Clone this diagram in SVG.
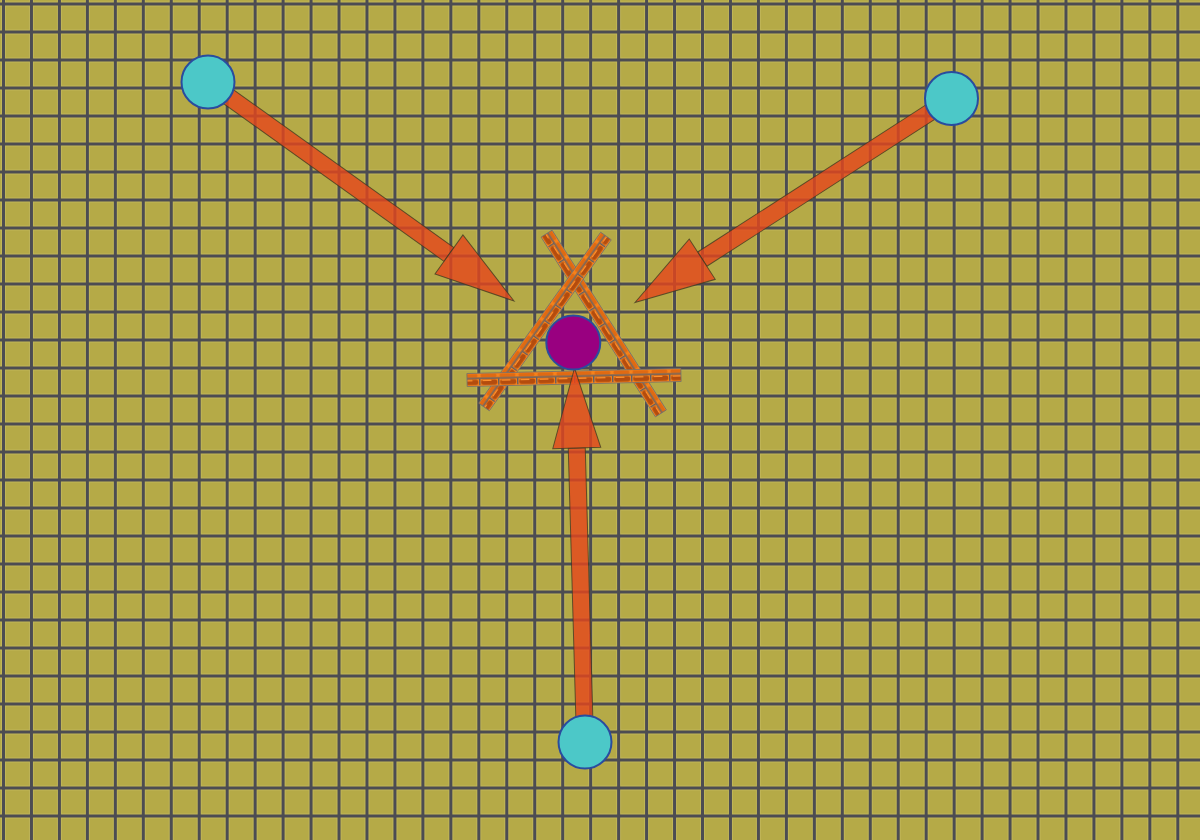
<svg xmlns="http://www.w3.org/2000/svg" width="1200" height="840" viewBox="0 0 1200 840">
  <defs>
    <pattern id="grid" patternUnits="userSpaceOnUse" x="2" y="2.5" width="27.96" height="28">
      <rect x="0" y="0" width="27.96" height="28" fill="#b5aa47"/>
      <rect x="3.5" y="3.5" width="23.96" height="24" fill="none" stroke="#c1b657" stroke-width="1"/>
      <rect x="0" y="0" width="3" height="28" fill="#4c4c52"/>
      <rect x="0" y="0" width="27.96" height="3" fill="#4c4c52"/>
    </pattern>
    <pattern id="brick" patternUnits="userSpaceOnUse" x="0" y="-6.5" width="38" height="13">
      <rect x="0" y="0" width="38" height="13" fill="#f7821a"/>
      <rect x="1.5" y="0.8" width="16" height="3.2" rx="1.5" fill="#e06a12"/>
      <rect x="20.5" y="0.8" width="16" height="3.2" rx="1.5" fill="#e06a12"/>
      <rect x="0" y="4.4" width="38" height="1.4" fill="#5e5e66"/>
      <rect x="0" y="5.8" width="1.4" height="7.2" fill="#5e5e66"/>
      <rect x="19" y="5.8" width="1.4" height="7.2" fill="#5e5e66"/>
      <rect x="2.2" y="6.5" width="16" height="5.2" rx="2.2" fill="#b44c0e"/>
      <rect x="21.2" y="6.5" width="16" height="5.2" rx="2.2" fill="#b44c0e"/>
      <rect x="3.5" y="6.8" width="9" height="1.3" rx="0.6" fill="#ff9230"/>
      <rect x="22.5" y="6.8" width="9" height="1.3" rx="0.6" fill="#ff9230"/>
      <rect x="0" y="12" width="38" height="1" fill="#ff8a20"/>
    </pattern>
    <style>
      .bar { fill: url(#brick); stroke: #707070; stroke-width: 0.8; }
      .arr { fill: #e6461c; fill-opacity: 0.8; stroke: #3a3a22; stroke-opacity: 0.75; stroke-width: 1; stroke-linejoin: miter; }
      .leaf { fill: #4cc8c8; stroke: #2a4c9e; stroke-width: 2; }
      .hub { fill: #990080; stroke: #2a4c9e; stroke-width: 2; }
    </style>
  </defs>

  <rect x="0" y="0" width="1200" height="840" fill="url(#grid)"/>

  <g id="brick-triangle">
    <g transform="translate(603.75,323.5) rotate(57.55)">
      <rect class="bar" x="-106.5" y="-6.5" width="213" height="13"/>
    </g>
    <g transform="translate(545,321.5) rotate(-54.5)">
      <rect class="bar" x="-105" y="-6.5" width="210" height="13"/>
    </g>
    <g transform="translate(574,377.5) rotate(-1.34)">
      <rect class="bar" x="-107" y="-6.5" width="214" height="13"/>
    </g>
  </g>

  <g id="connectors">
    <g transform="translate(514,301) rotate(35.59)">
      <rect class="arr" x="-376" y="-8.5" width="296" height="17"/>
      <polygon class="arr" points="0,0 -80,-24 -80,24"/>
    </g>
    <g transform="translate(635,302.5) rotate(147.2)">
      <rect class="arr" x="-376" y="-8.5" width="296" height="17"/>
      <polygon class="arr" points="0,0 -80,-24 -80,24"/>
    </g>
    <g transform="translate(574.5,368) rotate(-91.61)">
      <rect class="arr" x="-374" y="-8.5" width="294" height="17"/>
      <polygon class="arr" points="0,0 -80,-24 -80,24"/>
    </g>
  </g>

  <g id="node-hub">
    <circle class="hub" cx="573.3" cy="342.5" r="27"/>
  </g>
  <g id="node-top-left">
    <circle class="leaf" cx="208" cy="82" r="26.5"/>
  </g>
  <g id="node-top-right">
    <circle class="leaf" cx="951.5" cy="98.5" r="26.5"/>
  </g>
  <g id="node-bottom">
    <circle class="leaf" cx="585" cy="742" r="26.5"/>
  </g>
</svg>
